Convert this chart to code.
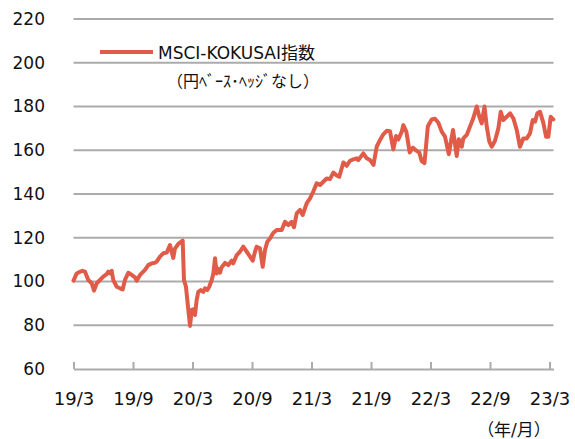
<!DOCTYPE html>
<html>
<head>
<meta charset="utf-8">
<script src="https://cdn.jsdelivr.net/npm/d3@7"></script>
<style>
  body { margin: 0; background: #fff; }
  text { font-family: 'DejaVu Sans', Verdana, 'Noto Sans CJK JP', sans-serif; fill: #111; }
</style>
</head>
<body>
<div id="chart"></div>
<script>
// Months since 2019/3 for each point
var months = [
  0, 0.32, 0.66, 0.91, 1.16, 1.49, 1.84, 2.07, 2.34, 2.67, 3.0, 3.35, 3.51, 3.68, 3.85, 4.01,
  4.36, 4.69, 4.96, 5.19, 5.53, 5.87, 6.2, 6.37, 6.71, 7.21, 7.54, 7.89, 8.22, 8.39, 8.72, 9.06,
  9.4, 9.73, 9.9, 10.06, 10.23, 10.57, 11.01, 11.14, 11.34, 11.58, 11.75, 11.92, 12.08, 12.25,
  12.42, 12.58, 12.83, 13.09, 13.26, 13.49, 13.69, 13.94, 14.1, 14.27, 14.44, 14.6, 14.77, 14.94,
  15.28, 15.61, 15.95, 16.11, 16.46, 16.78, 17.12, 17.47, 17.8, 18.07, 18.3, 18.47, 18.8, 19.08,
  19.31, 19.54, 19.81, 20.15, 20.49, 20.99, 21.33, 21.66, 22.0, 22.23, 22.51, 22.84, 23.11, 23.52,
  23.85, 24.18, 24.52, 24.86, 25.19, 25.53, 25.86, 26.2, 26.54, 26.8, 27.21, 27.55, 27.88, 28.21,
  28.56, 28.72, 29.22, 29.57, 29.9, 30.25, 30.57, 30.91, 31.24, 31.58, 31.91, 32.25, 32.52, 32.75,
  33.1, 33.26, 33.56, 33.9, 34.23, 34.57, 34.87, 35.11, 35.39, 35.73, 36.12, 36.45, 36.79, 37.13,
  37.46, 37.84, 38.27, 38.64, 38.85, 39.15, 39.31, 39.65, 39.98, 40.31, 40.66, 40.92, 41.16, 41.44,
  41.67, 41.93, 42.17, 42.5, 42.84, 43.08, 43.34, 43.68, 44.02, 44.35, 44.69, 45.02, 45.36, 45.7,
  46.03, 46.3, 46.54, 46.77, 47.04, 47.37, 47.65, 47.88, 48.12, 48.38
]

// MSCI-KOKUSAI index (yen base, unhedged), 2019/3 = 100
var values = [
  100.4, 103.7, 104.5, 104.9, 104.5, 100.7, 99.2, 95.8, 99.2, 100.7, 102.2, 103.4, 104.5, 103.7, 104.9, 100.7,
  97.6, 96.9, 96.4, 100.7, 104, 103, 101.9, 100.4, 103, 105.3, 107.5, 108.3, 108.6, 109.1, 111.4, 112.9,
  113.2, 116.7, 113.6, 110.8, 115, 117.2, 118.7, 100.7, 97.6, 87, 79.7, 87, 87.3, 84.7,
  91.5, 95.3, 96.1, 95.3, 96.9, 96.1, 97.6, 100.7, 103.7, 110.6, 103.7, 105.8, 104, 106.5,
  108.5, 107.5, 109.5, 108.3, 112.1, 113.6, 115.9, 113.6, 111.4, 109.5, 113.6, 115.9, 115.2, 106.7,
  114.4, 118.2, 119.7, 122.3, 123.5, 123.5, 127.3, 125.8, 127.3, 124.8, 131.1, 132.7, 130.4, 135.8,
  138, 141.1, 144.9, 144.1, 145.6, 147.1, 146.8, 149.8, 148.5, 147.9, 154.4, 152.9, 155.2, 155.8,
  156.3, 155.5, 158.6, 156.3, 155.5, 153.3, 161.6, 164.7, 167.3, 168.9, 168.7, 160.4, 166.5, 164.9,
  168.5, 171.5, 168.5, 159, 161.2, 159.8, 158.9, 155, 154.1, 171, 174.1, 174.4, 172.6, 168.5,
  166.2, 158.2, 169.3, 157.4, 165, 161.6, 165.4, 167, 170.8, 174.6, 180, 175.3, 172.3, 180,
  170.8, 163.9, 161.6, 164.3, 170, 177.6, 173.8, 175.3, 176.9, 174.6, 169.3, 161.6, 165.4, 165.4,
  167.7, 173.8, 173.1, 176.9, 177.6, 172.6, 166.2, 166.2, 175.3, 174.1
]

var xTickMonths = [0, 6, 12, 18, 24, 30, 36, 42, 48]
var xTickLabels = ['19/3', '19/9', '20/3', '20/9', '21/3', '21/9', '22/3', '22/9', '23/3']
var yTicks = [60, 80, 100, 120, 140, 160, 180, 200, 220]

var seriesName = 'MSCI-KOKUSAI指数'
var seriesNote = '（円ﾍﾞｰｽ･ﾍｯｼﾞなし）'
var unitLabel = '（年/月）'

var width = 575
var height = 439
var lineColor = '#E05B48'
var gridColor = '#ABABAB'

var svg = d3
  .select('#chart')
  .append('svg')
  .attr('width', width)
  .attr('height', height)

// Scales
var xPositionScale = d3
  .scaleLinear()
  .domain([0, 48.4])
  .range([73.5, 553.5])

var yPositionScale = d3
  .scaleLinear()
  .domain([60, 220])
  .range([369, 19])

// Horizontal gridlines (the 60 line doubles as the x axis)
svg
  .selectAll('.grid')
  .data(yTicks.filter(d => d > 60))
  .enter()
  .append('line')
  .attr('class', 'grid')
  .attr('x1', xPositionScale.range()[0])
  .attr('x2', xPositionScale.range()[1])
  .attr('y1', d => yPositionScale(d))
  .attr('y2', d => yPositionScale(d))
  .attr('stroke', gridColor)
  .attr('stroke-width', 2)

// Y axis labels only
var yAxis = d3
  .axisLeft(yPositionScale)
  .tickValues(yTicks)
  .tickSize(0)
  .tickPadding(0)
svg
  .append('g')
  .attr('class', 'axis y-axis')
  .attr('transform', 'translate(45,0)')
  .call(yAxis)
  .call(g => g.select('.domain').remove())
  .selectAll('text')
  .attr('font-size', 17)
  .attr('font-family', 'DejaVu Sans, Verdana, sans-serif')
  .attr('fill', '#111')

// X axis with ticks pointing up
var xAxis = d3
  .axisBottom(xPositionScale)
  .tickValues(xTickMonths)
  .tickFormat((d, i) => xTickLabels[i])
  .tickSizeInner(-7)
  .tickSizeOuter(0)
  .tickPadding(23)
var xg = svg
  .append('g')
  .attr('class', 'axis x-axis')
  .attr('transform', 'translate(0,369)')
  .call(xAxis)
xg.select('.domain').attr('stroke', gridColor).attr('stroke-width', 2)
xg.selectAll('.tick line').attr('stroke', gridColor).attr('stroke-width', 2)
xg.selectAll('text')
  .attr('font-size', 18)
  .attr('font-family', 'DejaVu Sans, Verdana, sans-serif')
  .attr('fill', '#111')

// The index line
var points = months.map((m, i) => ({ m: m, v: values[i] }))
var line = d3
  .line()
  .x(d => xPositionScale(d.m))
  .y(d => yPositionScale(d.v))

svg
  .append('path')
  .datum(points)
  .attr('d', line)
  .attr('fill', 'none')
  .attr('stroke', lineColor)
  .attr('stroke-width', 4)
  .attr('stroke-linejoin', 'round')
  .attr('stroke-linecap', 'round')

// Legend
svg
  .append('line')
  .attr('x1', 100)
  .attr('x2', 153)
  .attr('y1', 52)
  .attr('y2', 52)
  .attr('stroke', lineColor)
  .attr('stroke-width', 4)

svg
  .append('text')
  .attr('x', 158)
  .attr('y', 58.5)
  .attr('font-size', 17)
  .text(seriesName)

svg
  .append('text')
  .attr('x', 167)
  .attr('y', 87)
  .attr('font-size', 16)
  .attr('font-family', 'Noto Sans CJK JP, sans-serif')
  .text(seriesNote)

// Unit label under the axis
svg
  .append('text')
  .attr('x', 514)
  .attr('y', 436)
  .attr('text-anchor', 'middle')
  .attr('font-size', 17)
  .attr('font-family', 'Noto Sans CJK JP, sans-serif')
  .text(unitLabel)
</script>
</body>
</html>
